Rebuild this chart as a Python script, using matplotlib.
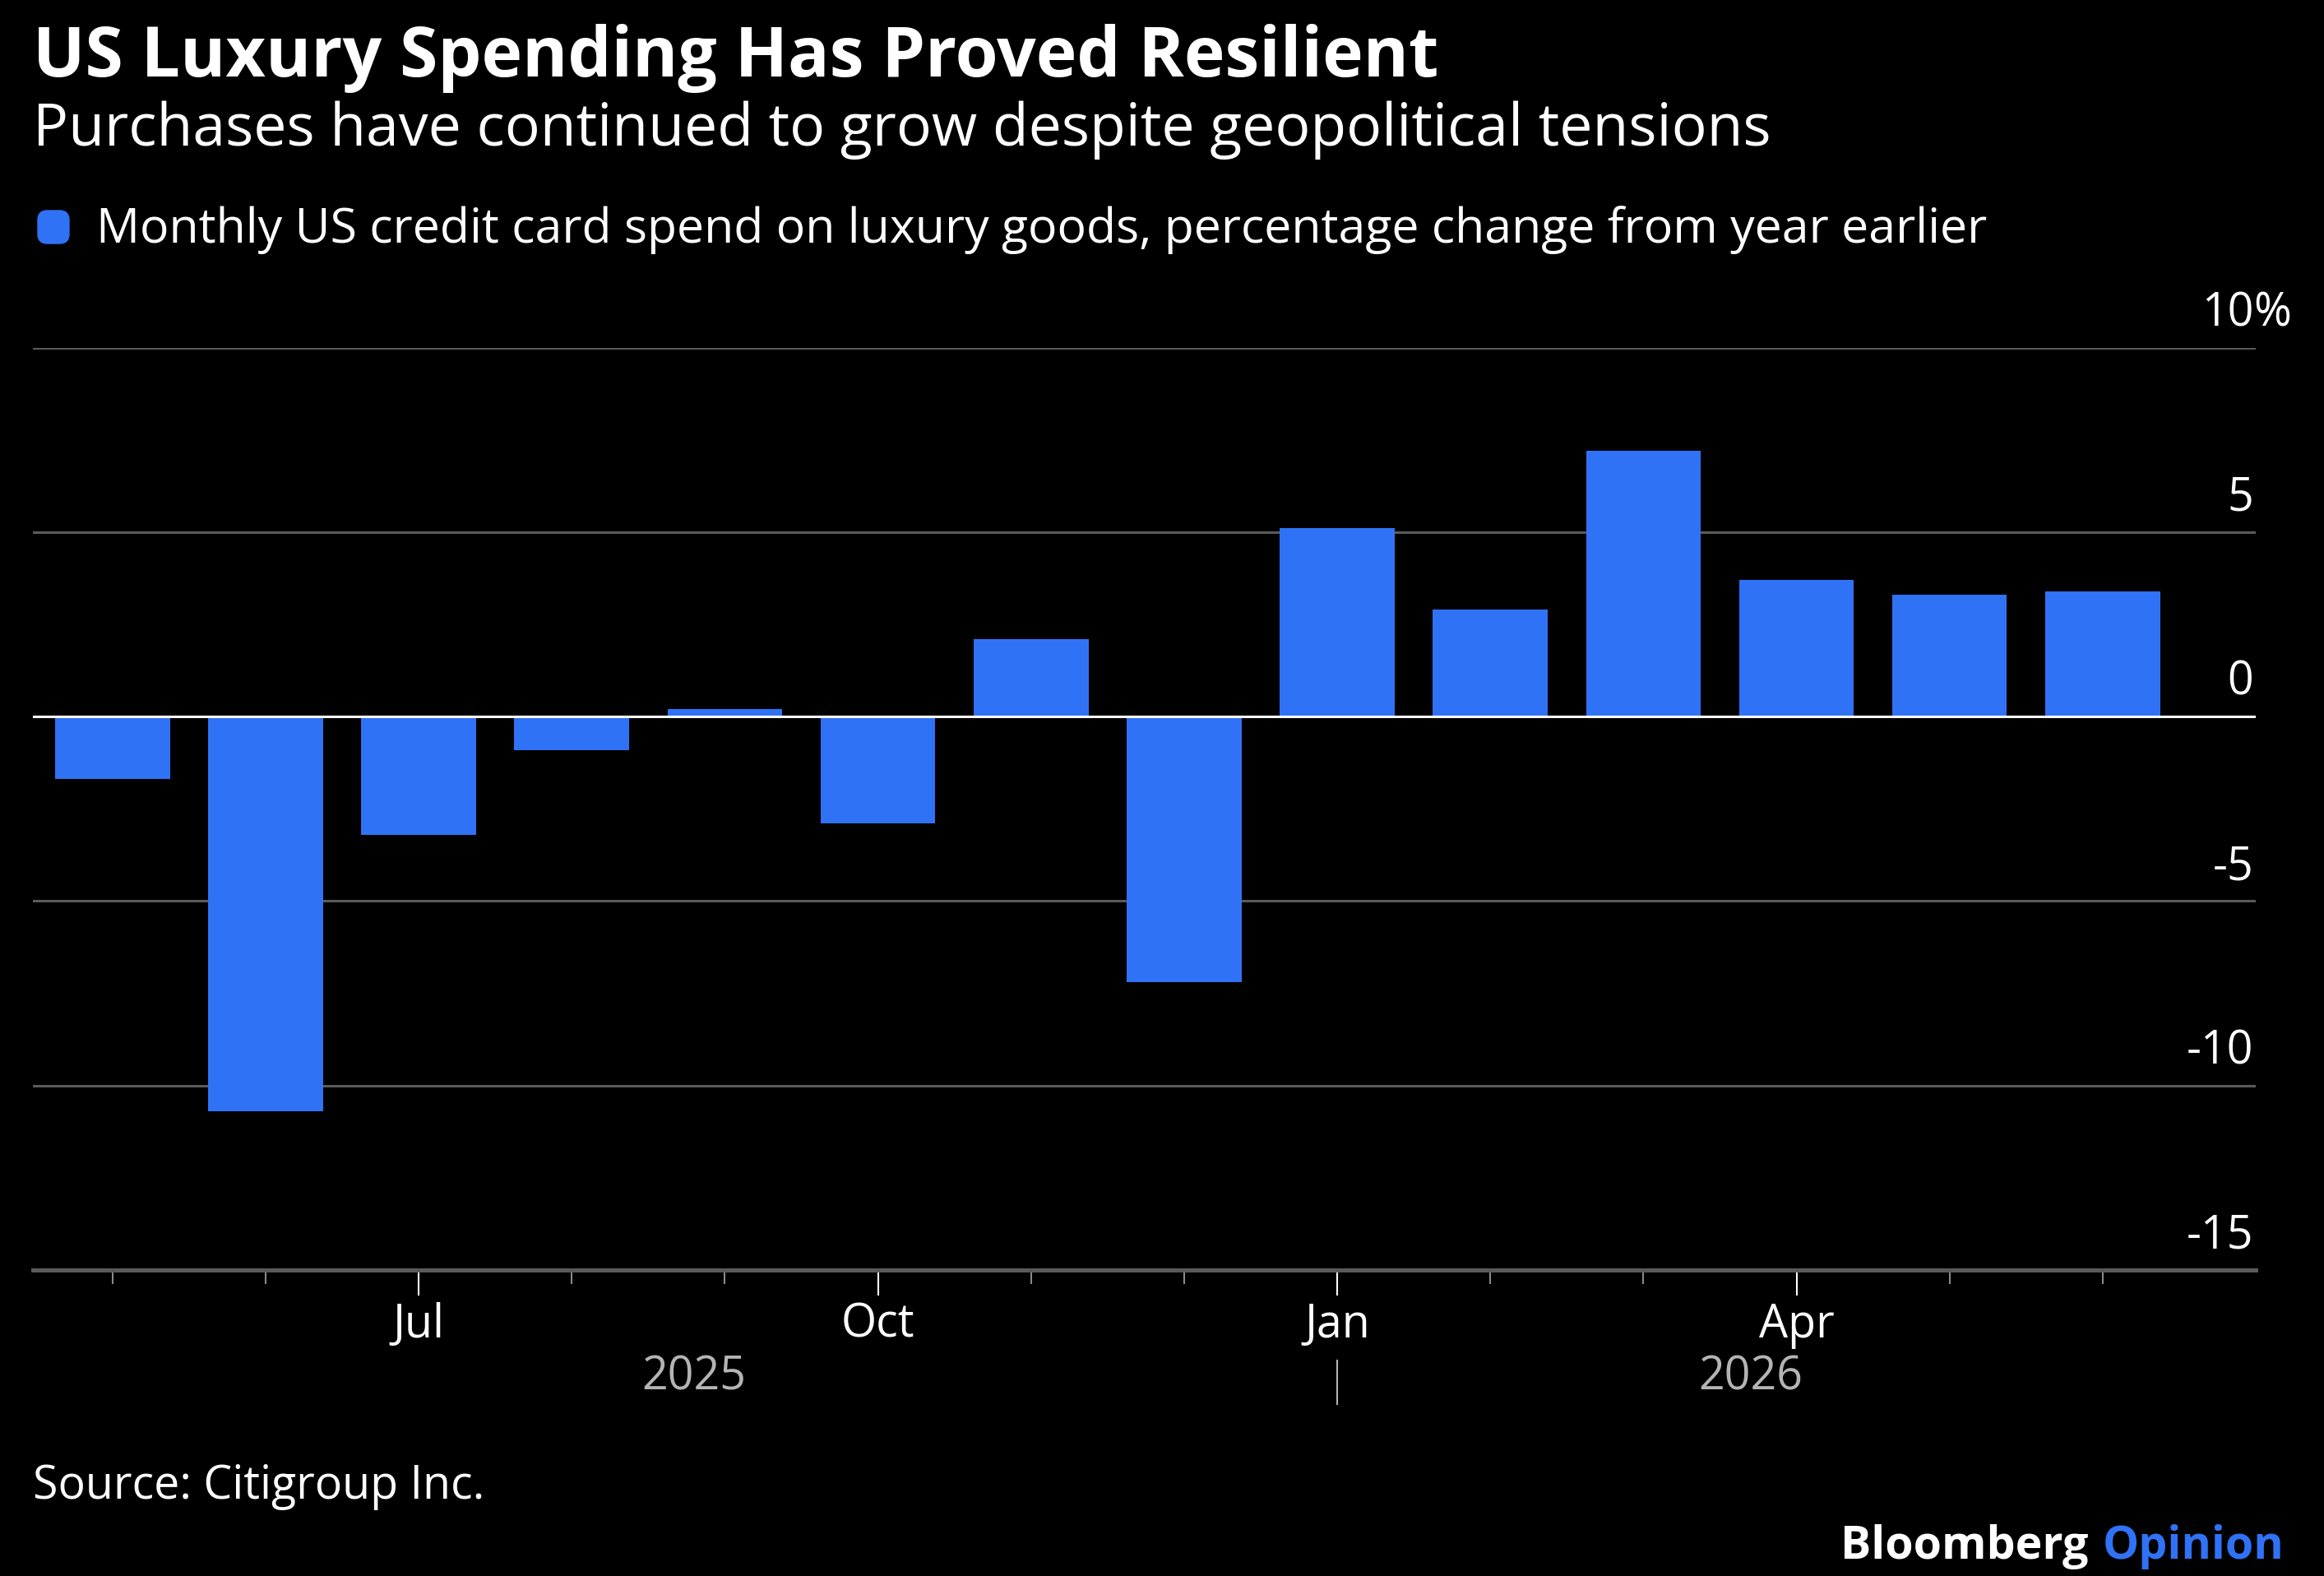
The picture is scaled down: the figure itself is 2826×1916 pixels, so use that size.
import matplotlib
matplotlib.use("Agg")
import matplotlib.pyplot as plt
from matplotlib.patches import FancyBboxPatch
from matplotlib.transforms import blended_transform_factory

# data (% change from a year earlier)
months = ["May", "Jun", "Jul", "Aug", "Sep", "Oct", "Nov", "Dec",
          "Jan", "Feb", "Mar", "Apr", "May", "Jun"]
years = [2025] * 8 + [2026] * 6
values = [-1.7, -10.7, -3.2, -0.9, 0.2, -2.9, 2.1, -7.2,
          5.1, 2.9, 7.2, 3.7, 3.3, 3.4]
labeled_months = ["Jul", "Oct", "Jan", "Apr"]
yticks = [10, 5, 0, -5, -10, -15]

TITLE = "US Luxury Spending Has Proved Resilient"
SUBTITLE = "Purchases have continued to grow despite geopolitical tensions"
LEGEND = "Monthly US credit card spend on luxury goods, percentage change from year earlier"
SOURCE = "Source: Citigroup Inc."

BG = "#000000"
BLUE = "#3072F5"
GRID = "#5a5a5a"
YEAR_GREY = "#b4b4b4"
FONT = "Open Sans"

W, H, DPI = 2826, 1916, 100


def px_x(p):
    return p / W


def px_y(p):
    return 1 - p / H


def main():
    plt.rcParams["font.family"] = [FONT, "DejaVu Sans"]
    fig = plt.figure(figsize=(W / DPI, H / DPI), dpi=DPI, facecolor=BG)
    ax = fig.add_axes([px_x(40), px_y(1544), px_x(2743) - px_x(40), px_y(422.7) - px_y(1544)])
    ax.set_facecolor(BG)

    x = list(range(len(values)))
    ax.bar(x, values, width=0.75, color=BLUE, zorder=2)

    ax.set_xlim(-0.52, len(values))
    ax.set_ylim(-15, 10)

    # grid lines
    for v in yticks:
        if v == -15:
            continue
        if v == 0:
            ax.axhline(0, color="white", lw=2.2, zorder=3)
        else:
            ax.axhline(v, color=GRID, lw=2.2, zorder=1)

    for s in ["top", "left", "right"]:
        ax.spines[s].set_visible(False)
    ax.spines["bottom"].set_color(GRID)
    ax.spines["bottom"].set_linewidth(3.6)

    ax.set_yticks([])
    major = [i for i, m in enumerate(months) if m in labeled_months]
    minor = [i for i in x if i not in major]
    ax.set_xticks(major)
    ax.set_xticklabels([months[i] for i in major])
    ax.set_xticks(minor, minor=True)
    ax.tick_params(axis="x", which="major", length=22, width=1.5, color="white",
                   labelcolor="white", labelsize=40, pad=6)
    ax.tick_params(axis="x", which="minor", length=12, width=1.5, color="#8a8a8a")

    # right side value labels sitting above the grid lines
    ytr = ax.get_yaxis_transform()
    for v in yticks:
        ax.annotate(str(v), xy=(1.0, v), xycoords=ytr, xytext=(-2, 19),
                    textcoords="offset points", ha="right", va="baseline",
                    color="white", fontsize=40, annotation_clip=False)
    ax.annotate("%", xy=(1.0, 10), xycoords=ytr, xytext=(-2, 19),
                textcoords="offset points", ha="left", va="baseline",
                color="white", fontsize=40, annotation_clip=False)

    # year labels and separator
    xtr = blended_transform_factory(ax.transData, ax.transAxes)
    first_2026 = years.index(2026)
    ax.text(3.8, -0.117, "2025", transform=xtr, ha="center", va="center",
            color=YEAR_GREY, fontsize=40)
    ax.text(10.7, -0.117, "2026", transform=xtr, ha="center", va="center",
            color=YEAR_GREY, fontsize=40)
    ax.plot([first_2026, first_2026], [-0.098, -0.145], transform=xtr,
            color=YEAR_GREY, lw=1.5, clip_on=False)

    # header
    fig.text(px_x(40), px_y(93), TITLE, color="white", fontsize=60.5,
             fontweight="bold", va="baseline")
    fig.text(px_x(40), px_y(177), SUBTITLE, color="white", fontsize=51.5, va="baseline")
    fig.patches.append(FancyBboxPatch((px_x(46), px_y(296)), px_x(38), 40 / H,
                                      boxstyle="round,pad=0,rounding_size=0.004",
                                      transform=fig.transFigure, color=BLUE,
                                      mutation_aspect=W / H))
    fig.text(px_x(117), px_y(295), LEGEND, color="white", fontsize=42.5, va="baseline")

    # footer
    fig.text(px_x(40), px_y(1822), SOURCE, color="white", fontsize=40, va="baseline")
    op = fig.text(px_x(2778), px_y(1895), "Opinion", color=BLUE, fontsize=40,
                  fontweight="bold", ha="right", va="baseline")
    fig.canvas.draw()
    bb = op.get_window_extent(renderer=fig.canvas.get_renderer())
    fig.text(bb.x0 / W - px_x(18), px_y(1895), "Bloomberg", color="white", fontsize=40,
             fontweight="bold", ha="right", va="baseline")

    fig.savefig("out.png", dpi=DPI, facecolor=BG)


if __name__ == "__main__":
    main()
